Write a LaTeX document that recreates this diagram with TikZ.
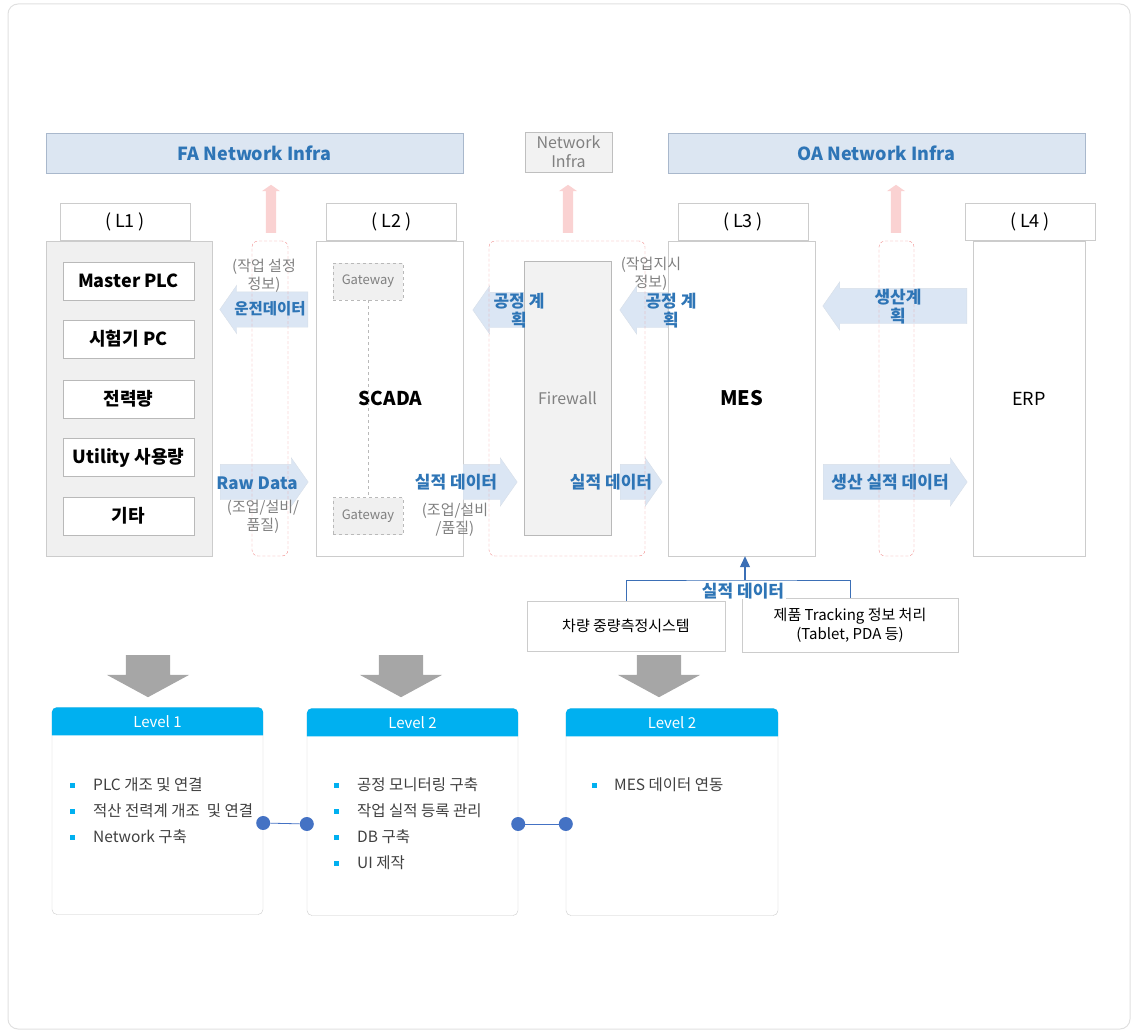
\documentclass[tikz,border=0pt]{standalone}
\usepackage{fontspec}
\setmainfont{Noto Sans CJK KR}
\usetikzlibrary{shapes.arrows,arrows.meta,positioning,calc}
\definecolor{infrafill}{HTML}{DCE6F2}
\definecolor{infraline}{HTML}{A9B8CC}
\definecolor{txtblue}{HTML}{2E75B6}
\definecolor{boxline}{HTML}{CCCCCC}
\definecolor{tierfill}{HTML}{F0F0F0}
\definecolor{flowfill}{HTML}{DBE6F4}
\definecolor{pinkline}{HTML}{F08C8C}
\definecolor{pinkfill}{HTML}{FAD2D2}
\definecolor{txtgray}{HTML}{808080}
\definecolor{lvcyan}{HTML}{00B0F0}
\definecolor{dotblue}{HTML}{4472C4}
\definecolor{downgray}{HTML}{A6A6A6}
\definecolor{linkblue}{HTML}{3B6FB6}
\newcommand{\fsz}[2]{\fontsize{#1}{#2}\selectfont}
\tikzset{
	infra/.style={draw=infraline, fill=infrafill, minimum height=40, text=txtblue, font=\fsz{18}{18}\bfseries},
	lvlabel/.style={draw=boxline, fill=white, minimum width=130, minimum height=37, font=\fsz{18}{18}},
	tier/.style={draw=boxline, fill=white, minimum height=315},
	plcitem/.style={draw=gray!55, fill=white, minimum width=131, minimum height=38, font=\fsz{18}{18}\bfseries},
	gateway/.style={draw=gray!55, dashed, fill=gray!12, minimum width=70, minimum height=37, text=txtgray, font=\fsz{13}{13}},
	pinkzone/.style={draw=pinkline, densely dashed, rounded corners=6, minimum height=315},
	pinkup/.style={single arrow, shape border rotate=90, anchor=tail, fill=pinkfill, inner xsep=5, inner ysep=5, minimum height=48, minimum width=18, single arrow head extend=4, single arrow tip angle=110},
	flow/.style={single arrow, anchor=tail, fill=flowfill, draw=infraline!45, inner xsep=0, inner ysep=17.5, minimum width=48, single arrow head extend=6.5, single arrow tip angle=110},
	flowleft/.style={flow, shape border rotate=180},
	downarr/.style={single arrow, shape border rotate=270, anchor=tail, fill=downgray, inner xsep=22, inner ysep=0, minimum height=42, minimum width=82, single arrow head extend=19, single arrow tip angle=123},
	bluetxt/.style={text=txtblue, font=\fsz{17}{19}\bfseries, align=center, inner sep=0},
	graytxt/.style={text=txtgray, font=\fsz{15}{18}, align=center, inner sep=0},
	srcbox/.style={draw=boxline, fill=white, font=\fsz{15}{19}, align=center},
	lvbox/.style={draw=boxline, fill=white, rounded corners=5, minimum width=211, minimum height=207},
	lvtitle/.style={text=white, font=\fsz{15}{15}, inner sep=0},
	lvitem/.style={anchor=west, text=black!75, font=\fsz{15.5}{15.5}, inner sep=0},
	dot/.style={circle, fill=dotblue, inner sep=0, minimum size=14},
	dotline/.style={draw=dotblue, line width=0.8pt}
}
\begin{document}
\begin{tikzpicture}[x=1pt, y=-1pt]
	\useasboundingbox (0,0) rectangle (1136,1033);
	\draw[draw=black!12, rounded corners=10, line width=1pt] (8,4) rectangle (1130,1029);

	\node[infra, minimum width=417] (fa) at (254.5,153) {FA Network Infra};
	\node[draw=gray!50, fill=gray!10, minimum width=87, minimum height=40, text=txtgray, align=center, inner sep=0, font=\fsz{16}{19}] (netinfra) at (568.5,152) {Network\\Infra};
	\node[infra, minimum width=417] (oa) at (876.5,153) {OA Network Infra};

	\node[lvlabel] (lab1) at (125,221.5) {( L1 )};
	\node[lvlabel] (lab2) at (391.5,221.5) {( L2 )};
	\node[lvlabel] (lab3) at (743,221.5) {( L3 )};
	\node[lvlabel] (lab4) at (1030,221.5) {( L4 )};

	\node[tier, fill=tierfill, minimum width=166] (l1) at (129,398.5) {};
	\node[tier, minimum width=147, font=\fsz{19}{19}\bfseries] (l2) at (389.5,398.5) {\hspace*{2pt}SCADA};
	\node[tier, minimum width=147, font=\fsz{20}{20}\bfseries] (l3) at (741.5,398.5) {MES};
	\node[tier, minimum width=112, font=\fsz{18}{18}] (l4) at (1029,398.5) {ERP};

	\node[plcitem] (plc) at (128.5,281) {Master PLC};
	\node[plcitem] (tester) at (128.5,339) {시험기 PC};
	\node[plcitem] (power) at (128.5,399) {전력량};
	\node[plcitem] (utility) at (128.5,457.5) {Utility 사용량};
	\node[plcitem] (etc) at (128.5,516) {기타};

	\node[gateway] (gwtop) at (368,281.5) {Gateway};
	\node[gateway] (gwbot) at (368,516) {Gateway};
	\draw[gray!55, dashed] (gwtop) -- (gwbot);

	\node[draw=gray!55, fill=gray!10, minimum width=87, minimum height=274, text=txtgray, font=\fsz{16}{16}] (firewall) at (567.5,398) {Firewall};

	\node[pinkup] (upA) at (271,233) {};
	\node[pinkup] (upB) at (568,233) {};
	\node[pinkup] (upC) at (896,233) {};

	\node[flowleft, minimum height=88] (opflow) at (308,309.5) {};
	\node[flow, minimum height=88] (rawflow) at (220,482) {};
	\node[flowleft, minimum height=51] (planA) at (524,310) {};
	\node[flowleft, minimum height=48] (planB) at (668,310) {};
	\node[flow, minimum height=54] (resA) at (463,482) {};
	\node[flow, minimum height=42] (resB) at (620,482) {};
	\node[flowleft, minimum height=144] (prodplan) at (967,306) {};
	\node[flow, minimum height=144] (prodres) at (823,482) {};

	\node[pinkzone, minimum width=36] (zoneA) at (270,398.5) {};
	\node[pinkzone, minimum width=156] (zoneB) at (567,398.5) {};
	\node[pinkzone, minimum width=35] (zoneC) at (896.5,398.5) {};

	\node[graytxt] (setinfo) at (264,276) {(작업 설정\\정보)};
	\node[bluetxt, font=\fsz{15.5}{17}\bfseries] (optxt) at (270,309) {운전데이터};
	\node[bluetxt] (rawtxt) at (257,483) {Raw Data};
	\node[graytxt] (rawsub) at (263,517) {(조업/설비/\\품질)};
	\node[bluetxt] (planAtxt) at (519,311) {공정 계\\획};
	\node[graytxt] (wrkinfo) at (651,274) {(작업지시\\정보)};
	\node[bluetxt] (planBtxt) at (671,311) {공정 계\\획};
	\node[bluetxt] (resAtxt) at (456,482) {실적 데이터};
	\node[graytxt] (resAsub) at (455,520) {(조업/설비\\/품질)};
	\node[bluetxt] (resBtxt) at (611,482) {실적 데이터};
	\node[bluetxt] (prodplantxt) at (898,307) {생산계\\획};
	\node[bluetxt] (prodrestxt) at (890,482) {생산 실적 데이터};

	\node[srcbox, minimum width=198, minimum height=50] (veh) at (626,626) {차량 중량측정시스템};
	\node[srcbox, minimum width=216, minimum height=54] (trk) at (850,625) {제품 Tracking 정보 처리\\(Tablet, PDA 등)};
	\coordinate (jn) at (745,580);
	\draw[linkblue, line width=1pt] (veh.north) |- (jn) -| (trk.north);
	\draw[linkblue, line width=1.2pt, -{Triangle[width=10pt,length=11pt]}] (jn) -- (jn |- l3.south);
	\node[bluetxt, font=\fsz{17}{17}\bfseries, fill=white, inner xsep=2pt] (restxt) at (743,591) {실적 데이터};

	\node[downarr] (dn1) at (148,655) {};
	\node[downarr] (dn2) at (401,655) {};
	\node[downarr] (dn3) at (659,655) {};

	\node[lvbox] (lv1) at (157.5,811) {};
	\node[lvbox] (lv2) at (412.5,812) {};
	\node[lvbox, minimum width=212] (lv3) at (672,812) {};
	\foreach \lv/\name in {lv1/Level 1, lv2/Level 2, lv3/Level 2}{
		\fill[lvcyan] ([yshift=-28pt]\lv.north west) [rounded corners=5] -- (\lv.north west) -- (\lv.north east) [sharp corners] -- ([yshift=-28pt]\lv.north east) -- cycle;
		\node[lvtitle] (\lv t) at ([yshift=-14pt]\lv.north) {\name};
	}

	\foreach \t [count=\i] in {PLC 개조 및 연결, 적산 전력계 개조\ \ 및 연결, Network 구축}{
		\node[lvitem] (lv1-\i) at (93,{759+26*\i}) {\t};
		\fill[lvcyan] ([xshift=-21pt]lv1-\i.west) +(-2.5,-2.5) rectangle +(2.5,2.5);
	}
	\foreach \t [count=\i] in {공정 모니터링 구축, 작업 실적 등록 관리, DB 구축, UI 제작}{
		\node[lvitem] (lv2-\i) at (357,{759+26*\i}) {\t};
		\fill[lvcyan] ([xshift=-21pt]lv2-\i.west) +(-2.5,-2.5) rectangle +(2.5,2.5);
	}
	\node[lvitem] (lv3-1) at (614,785) {MES 데이터 연동};
	\fill[lvcyan] ([xshift=-20pt]lv3-1.west) +(-2.5,-2.5) rectangle +(2.5,2.5);

	\node[dot] (d1) at ([yshift=-12pt]lv1.east) {};
	\node[dot] (d2) at ([yshift=-12pt]lv2.west) {};
	\node[dot] (d3) at ([yshift=-12pt]lv2.east) {};
	\node[dot] (d4) at ([yshift=-12pt]lv3.west) {};
	\draw[dotline] (d1) -- (d2);
	\draw[dotline] (d3) -- (d4);
\end{tikzpicture}
\end{document}
